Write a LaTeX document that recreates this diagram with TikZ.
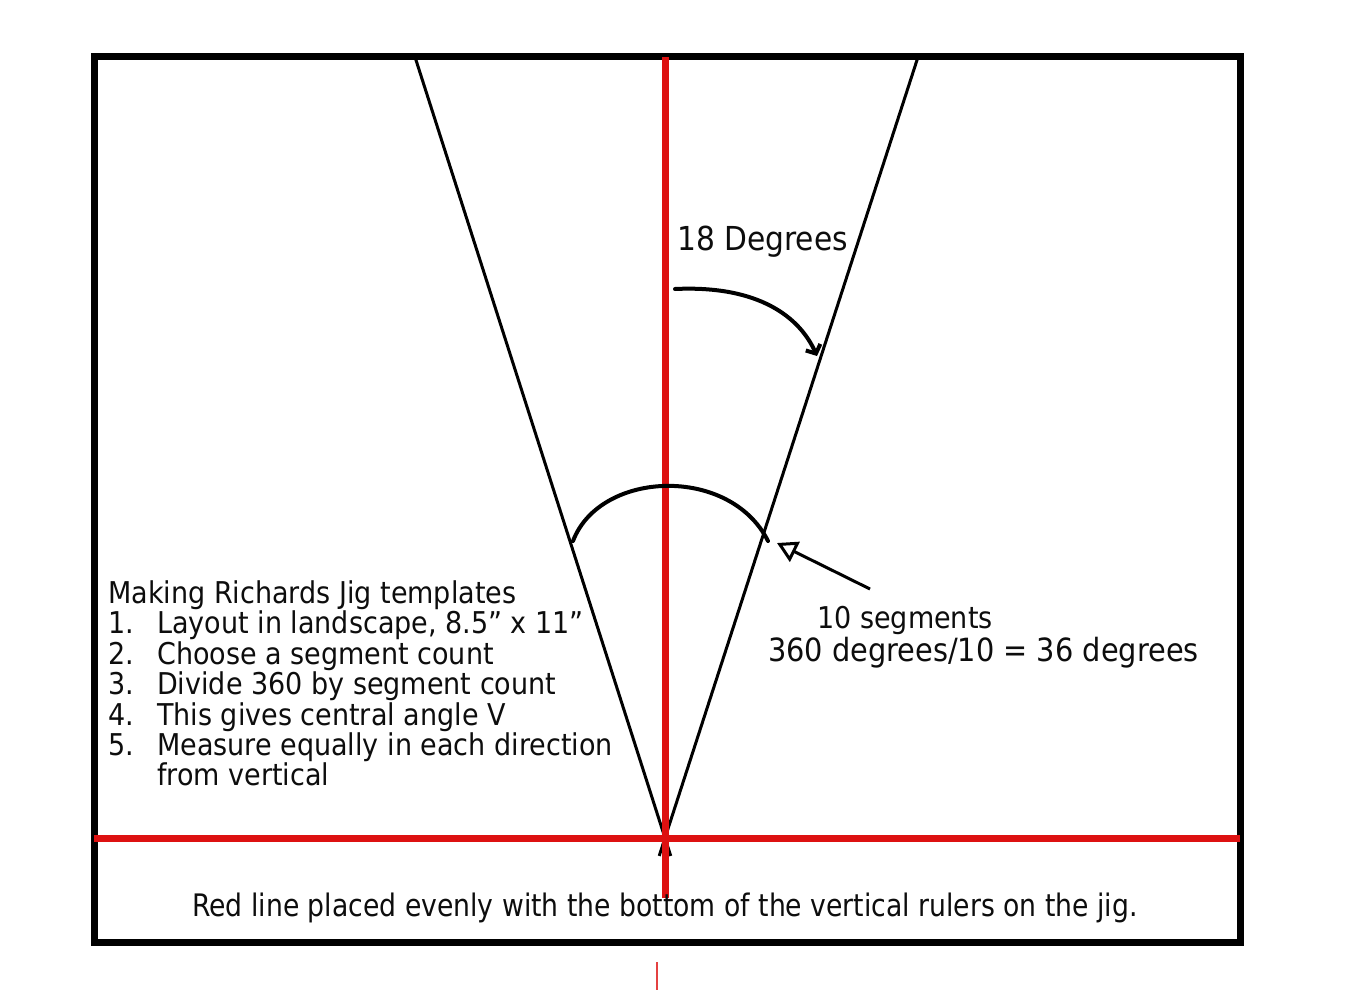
\documentclass[tikz,border=0pt]{standalone}
\usepackage{fontspec}
\setmainfont{DejaVu Sans}[FakeStretch=0.9]
\newfontfamily\narrowfont{DejaVu Sans}[FakeStretch=0.86]
\usetikzlibrary{arrows.meta,calc}
\definecolor{jigred}{RGB}{221,17,17}
\tikzset{
  frame/.style={line width=7pt, line join=miter},
  redline/.style={draw=jigred, line width=7pt},
  vline/.style={line width=3pt},
  arcline/.style={line width=4pt, line cap=round},
  lbl/.style={anchor=base west, inner sep=0pt, font=\fontsize{30}{30}\selectfont, text=black!95},
  biglbl/.style={lbl, font=\fontsize{32}{32}\selectfont},
}
\begin{document}
\begin{tikzpicture}[x=1pt,y=-1pt]
\useasboundingbox (0,0) rectangle (1362,990);
% frame
\draw[frame] (94,57) rectangle (1240,942);
% V lines
\coordinate (apex) at (665,838);
\coordinate (tl) at (415,57);
\coordinate (tr) at (918,57);
\draw[vline] (tl) -- ($(tl)!1.023!(apex)$);
\draw[vline] (tr) -- ($(tr)!1.023!(apex)$);
% red lines
\draw[redline] (94,838) -- (1240,838);
\draw[redline] (665,57) -- (665,898);
\draw[draw=jigred!80, line width=2pt] (657,962) -- (657,990);
% arcs
\coordinate (a1) at (573,541);
\coordinate (a2) at (768,541);
\draw[arcline] (a1) .. controls (600,470) and (730,465) .. (a2);
\coordinate (b1) at (675,289);
\coordinate (b2) at (817,356);
\draw[arcline, -{Straight Barb[length=7pt,width=16pt,line width=4pt]}] (b1) .. controls (760,285) and (800,318) .. (b2);
\coordinate (c1) at (870,589);
\coordinate (c2) at (777,543);
\draw[line width=3pt, -{Triangle[open,length=20pt,width=22pt,line width=3pt]}] (c1) -- (c2);
% labels
\node[biglbl, font=\fontsize{33}{33}\selectfont] (deg) at (677,250) {18 Degrees};
\node[lbl] (t0) at (108,603) {Making Richards Jig templates};
\node[lbl] (n1) at (108,633) {1.};
\node[lbl] (t1) at (157,633) {Layout in landscape, 8.5” x 11”};
\node[lbl] (n2) at (108,664) {2.};
\node[lbl] (t2) at (157,664) {Choose a segment count};
\node[lbl] (n3) at (108,694) {3.};
\node[lbl] (t3) at (157,694) {Divide 360 by segment count};
\node[lbl] (n4) at (108,725) {4.};
\node[lbl] (t4) at (157,725) {This gives central angle V};
\node[lbl] (n5) at (108,755) {5.};
\node[lbl] (t5) at (157,755) {Measure equally in each direction};
\node[lbl] (t6) at (157,785) {from vertical};
\node[lbl, anchor=base] (seg) at (905,628) {10 segments};
\node[biglbl] (calc) at (768,661) {360 degrees/10 = 36 degrees};
\node[lbl, font=\narrowfont\fontsize{31}{31}\selectfont] (bot) at (192,916) {Red line placed evenly with the bottom of the vertical rulers on the jig.};
\end{tikzpicture}
\end{document}
